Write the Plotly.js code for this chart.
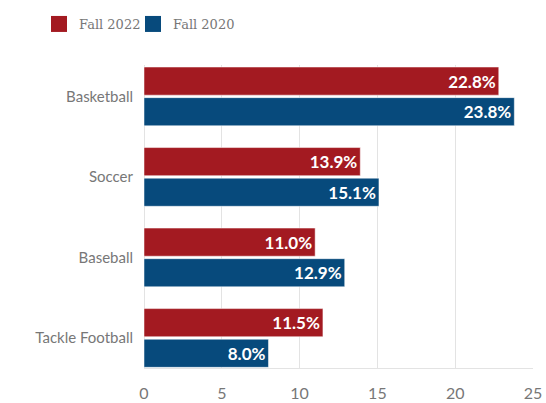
<!DOCTYPE html>
<html>
<head>
<meta charset="utf-8">
<script src="https://cdn.plot.ly/plotly-3.0.1.min.js"></script>
<style>html,body{margin:0;padding:0;background:#fff;}#chart{width:546px;height:403px;}</style>
</head>
<body>
<div id="chart"></div>
<script>
const categories = ["Basketball", "Soccer", "Baseball", "Tackle Football"];
const fall2022 = [22.8, 13.9, 11.0, 11.5];
const fall2020 = [23.8, 15.1, 12.9, 8.0];
const seriesNames = ["Fall 2022", "Fall 2020"];
const xTicks = [0, 5, 10, 15, 20, 25];

const RED = "#A31A21";
const BLUE = "#074A7C";

function barTrace(name, vals, color) {
  return {
    type: "bar",
    orientation: "h",
    name: name,
    showlegend: false,
    y: categories,
    x: vals,
    text: vals.map(v => v.toFixed(1) + "%"),
    textposition: "inside",
    insidetextanchor: "end",
    textfont: {family: "Lato, sans-serif", size: 17, color: "#ffffff", weight: "bold"},
    marker: {color: color, line: {color: "rgba(255,255,255,0.5)", width: 1}},
    hoverinfo: "none",
    cliponaxis: false
  };
}

function legendTrace(name, color, legendId) {
  return {
    type: "scatter",
    mode: "markers",
    name: name,
    legend: legendId,
    x: [null],
    y: [null],
    marker: {symbol: "square", size: 20, color: color, line: {width: 0}},
    hoverinfo: "none",
    showlegend: true
  };
}

const data = [
  barTrace(seriesNames[0], fall2022, RED),
  barTrace(seriesNames[1], fall2020, BLUE),
  legendTrace(seriesNames[0], RED, "legend"),
  legendTrace(seriesNames[1], BLUE, "legend2")
];

function legendBox(xpx) {
  return {
    orientation: "h",
    xref: "container", yref: "container",
    x: xpx / 546, y: 1 - 9 / 403,
    xanchor: "left", yanchor: "top",
    font: {family: "DejaVu Serif, serif", size: 13, color: "#777777"},
    itemwidth: 30,
    borderwidth: 0,
    bgcolor: "rgba(0,0,0,0)"
  };
}

const layout = {
  width: 546,
  height: 403,
  margin: {l: 144, r: 13, t: 65, b: 35},
  paper_bgcolor: "#ffffff",
  plot_bgcolor: "#ffffff",
  barmode: "group",
  bargap: 0.24,
  bargroupgap: 0.08,
  font: {family: "Lato, sans-serif", color: "#777777"},
  showlegend: true,
  legend: legendBox(39),
  legend2: legendBox(133),
  xaxis: {
    range: [0, 25],
    tickvals: xTicks,
    ticktext: xTicks.map(String),
    showgrid: true,
    gridcolor: "#e3e3e3",
    gridwidth: 1,
    zeroline: true,
    zerolinecolor: "#e3e3e3",
    showline: true,
    linecolor: "#e3e3e3",
    ticks: "",
    ticklabelstandoff: 11,
    tickfont: {family: "Lato, sans-serif", size: 16, color: "#777777"},
    fixedrange: true
  },
  yaxis: {
    type: "category",
    categoryorder: "array",
    categoryarray: categories,
    range: [3.373, -0.39],
    showgrid: false,
    zeroline: false,
    ticks: "",
    ticklabelstandoff: 10,
    tickfont: {family: "Lato, sans-serif", size: 15, color: "#777777"},
    fixedrange: true
  }
};

Plotly.newPlot("chart", data, layout, {displayModeBar: false, staticPlot: true});
</script>
</body>
</html>
